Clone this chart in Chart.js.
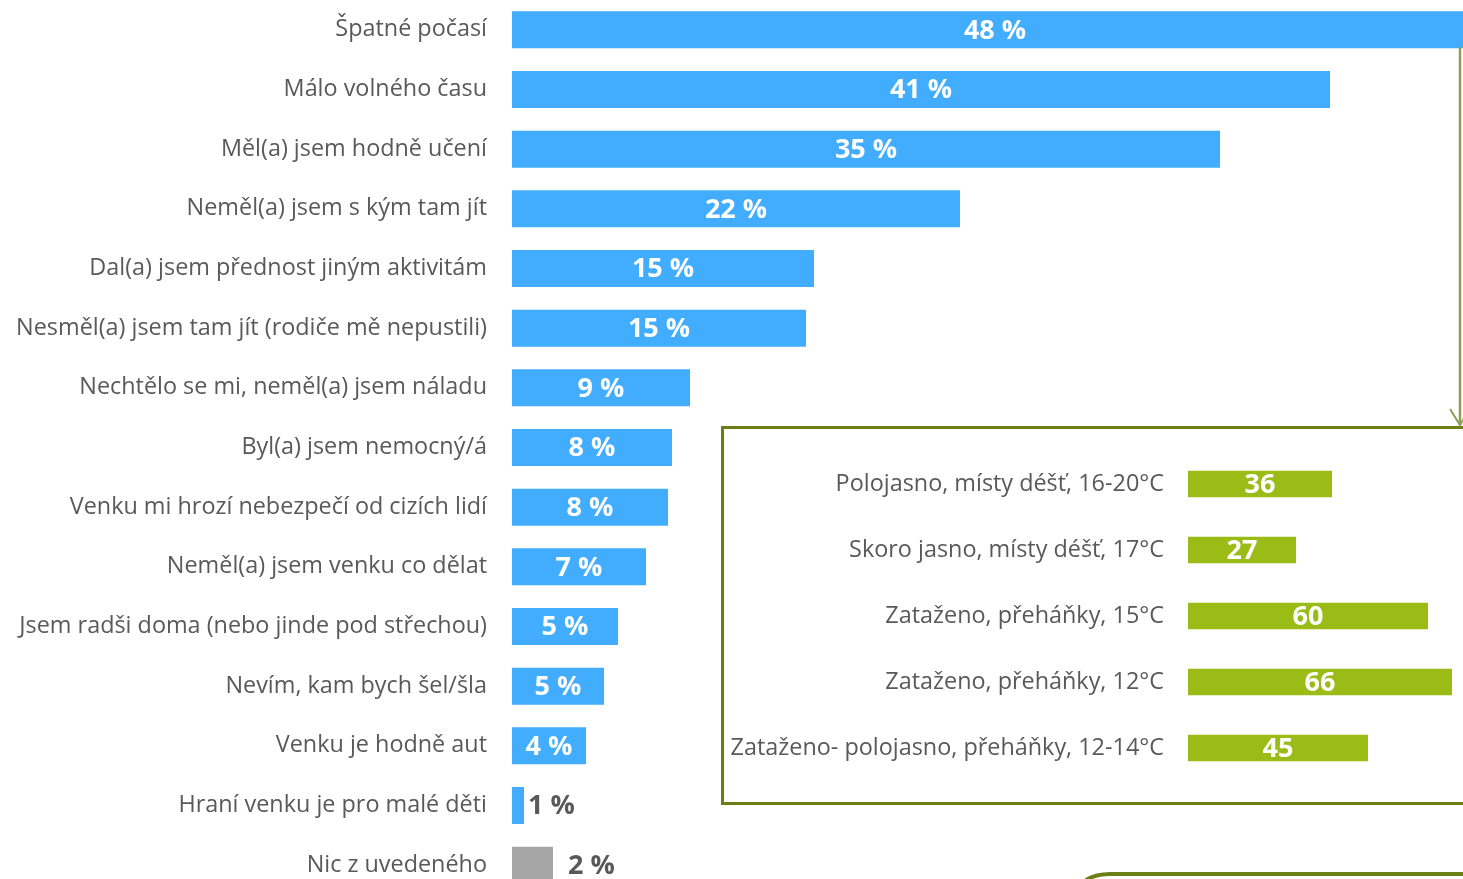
<!DOCTYPE html>
<html>
<head>
<meta charset="utf-8">
<script src="https://cdn.jsdelivr.net/npm/chart.js@4"></script>
<style>
  html, body { margin: 0; padding: 0; background: #fff; overflow: hidden; width: 1463px; height: 879px; }
  #mainChart { position: absolute; left: 0; top: 0; }
  #weatherBox { position: absolute; left: 721px; top: 426px; width: 780px; height: 373px; border: 3px solid #6a7f16; background: #fff; }
  #weatherChart { position: absolute; left: 724px; top: 451px; }
  #deco { position: absolute; left: 0; top: 0; pointer-events: none; }
</style>
</head>
<body>
<canvas id="mainChart" width="1463" height="895"></canvas>
<div id="weatherBox"></div>
<canvas id="weatherChart" width="739" height="330"></canvas>
<svg id="deco" width="1463" height="879">
  <line x1="1460" y1="47" x2="1460" y2="425" stroke="#8e9f59" stroke-width="2.5"/>
  <polyline points="1450,409 1460,425 1470,409" fill="none" stroke="#8e9f59" stroke-width="2"/>
  <path d="M1086,880 Q1096,874 1110,874 L1470,874" fill="none" stroke="#6b7f17" stroke-width="4"/>
</svg>
<script>
const reasons = [
  'Špatné počasí',
  'Málo volného času',
  'Měl(a) jsem hodně učení',
  'Neměl(a) jsem s kým tam jít',
  'Dal(a) jsem přednost jiným aktivitám',
  'Nesměl(a) jsem tam jít (rodiče mě nepustili)',
  'Nechtělo se mi, neměl(a) jsem náladu',
  'Byl(a) jsem nemocný/á',
  'Venku mi hrozí nebezpečí od cizích lidí',
  'Neměl(a) jsem venku co dělat',
  'Jsem radši doma (nebo jinde pod střechou)',
  'Nevím, kam bych šel/šla',
  'Venku je hodně aut',
  'Hraní venku je pro malé děti',
  'Nic z uvedeného'
];
const reasonValues = [48.3, 40.9, 35.4, 22.4, 15.1, 14.7, 8.9, 8.0, 7.8, 6.7, 5.3, 4.6, 3.7, 0.6, 2.05];
const reasonLabels = ['48 %', '41 %', '35 %', '22 %', '15 %', '15 %', '9 %', '8 %', '8 %', '7 %', '5 %', '5 %', '4 %', '1 %', '2 %'];

const weatherDays = [
  'Polojasno, místy déšť, 16-20°C',
  'Skoro jasno, místy déšť, 17°C',
  'Zataženo, přeháňky, 15°C',
  'Zataženo, přeháňky, 12°C',
  'Zataženo- polojasno, přeháňky, 12-14°C'
];
const weatherValues = [36, 27, 60, 66, 45];
const weatherLabels = ['36', '27', '60', '66', '45'];

const BLUE = '#42adff';
const GREY = '#a6a6a6';
const GREEN = '#9bbb17';
const TEXT = '#595959';
const labelFont = { family: '"Open Sans"', size: 23.4 };

// draws the value text in the middle of each bar, or after it when it does not fit
function valueLabelPlugin(texts) {
  return {
    id: 'valueLabels',
    afterDatasetsDraw(chart) {
      const ctx = chart.ctx;
      const meta = chart.getDatasetMeta(0);
      const xScale = chart.scales.x;
      ctx.save();
      ctx.font = 'bold 27px "Open Sans"';
      ctx.textBaseline = 'middle';
      meta.data.forEach((bar, i) => {
        const text = texts[i];
        const endX = xScale.getPixelForValue(chart.data.datasets[0].data[i]);
        const w = ctx.measureText(text).width;
        if (endX - bar.base > w + 8) {
          ctx.fillStyle = '#fff';
          ctx.textAlign = 'center';
          ctx.fillText(text, (bar.base + endX) / 2, bar.y + 1);
        } else {
          const gap = i === texts.length - 1 ? 15 : 4;
          ctx.fillStyle = TEXT;
          ctx.textAlign = 'left';
          ctx.fillText(text, endX + gap, bar.y + 1);
        }
      });
      ctx.restore();
    }
  };
}

// fixed label column, no extra vertical padding from the tick labels
function fixAxis(width) {
  return (scale) => {
    scale.width = width;
    scale.paddingTop = 0;
    scale.paddingBottom = 0;
  };
}

new Chart(document.getElementById('mainChart'), {
  type: 'bar',
  data: {
    labels: reasons,
    datasets: [{
      data: reasonValues,
      backgroundColor: reasonValues.map((v, i) => i === reasonValues.length - 1 ? GREY : BLUE),
      categoryPercentage: 1,
      barPercentage: 0.62
    }]
  },
  options: {
    indexAxis: 'y',
    responsive: false,
    animation: false,
    layout: { padding: 0 },
    plugins: { legend: { display: false }, tooltip: { enabled: false } },
    scales: {
      x: { display: false, min: 0, max: 951 / 20 },
      y: {
        afterFit: fixAxis(512),
        grid: { display: false, drawTicks: false },
        border: { display: false },
        ticks: { color: TEXT, font: labelFont, padding: 25, autoSkip: false }
      }
    }
  },
  plugins: [valueLabelPlugin(reasonLabels)]
});

new Chart(document.getElementById('weatherChart'), {
  type: 'bar',
  data: {
    labels: weatherDays,
    datasets: [{
      data: weatherValues,
      backgroundColor: GREEN,
      categoryPercentage: 1,
      barPercentage: 0.4
    }]
  },
  options: {
    indexAxis: 'y',
    responsive: false,
    animation: false,
    layout: { padding: 0 },
    plugins: { legend: { display: false }, tooltip: { enabled: false } },
    scales: {
      x: { display: false, min: 0, max: 275 / 4 },
      y: {
        afterFit: fixAxis(464),
        grid: { display: false, drawTicks: false },
        border: { display: false },
        ticks: { color: TEXT, font: labelFont, padding: 24, autoSkip: false }
      }
    }
  },
  plugins: [valueLabelPlugin(weatherLabels)]
});
</script>
</body>
</html>
